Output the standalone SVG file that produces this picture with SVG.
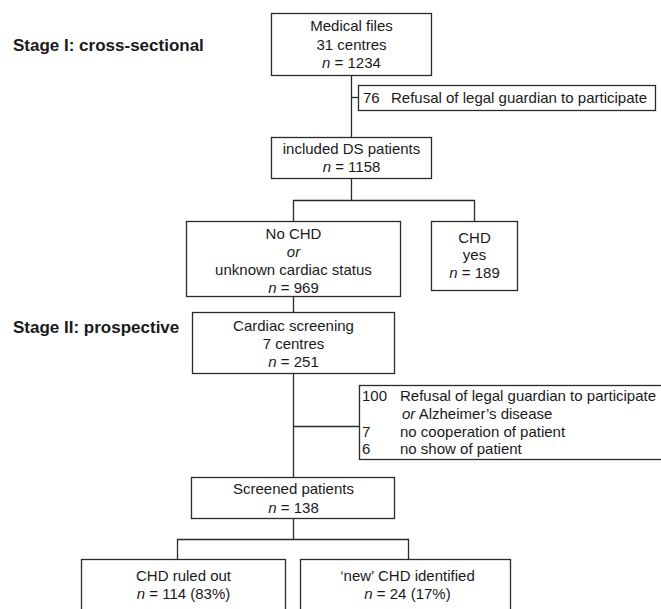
<svg xmlns="http://www.w3.org/2000/svg" width="661" height="609" viewBox="0 0 661 609">
<style>
.box{fill:#fff;stroke:#2a2a2a;stroke-width:1.3}
.ln{fill:none;stroke:#2a2a2a;stroke-width:1.3}
text{font-family:"Liberation Sans",Arial,sans-serif;font-size:15px;fill:#1a1a1a}
.c{text-anchor:middle}
.stage{font-size:17px;font-weight:bold}
.i{font-style:italic}
</style>
<rect width="661" height="609" fill="#fff"/>
<text class="stage" x="13" y="51">Stage I: cross-sectional</text>
<text class="stage" x="13" y="333">Stage II: prospective</text>
<g id="connectors">
<path class="ln" d="M351.5 75V137"/>
<path class="ln" d="M351.5 97.5H358.5"/>
<path class="ln" d="M351.5 179V200.5M293.5 221V200.5H474.5V221"/>
<path class="ln" d="M293.5 297V312"/>
<path class="ln" d="M293.5 374V477M293.5 426.5H359.5"/>
<path class="ln" d="M293.5 519V539.5M177.5 559V539.5H408.5V559"/>
</g>
<g id="medical">
<rect class="box" x="271.5" y="13.5" width="160" height="62"/>
<text class="c" x="351.5" y="31">Medical files</text>
<text class="c" x="351.5" y="49.5">31 centres</text>
<text class="c" x="351.5" y="67.5"><tspan class="i">n</tspan> = 1234</text>
</g>
<g id="refusal1">
<rect class="box" x="358.5" y="85.5" width="297" height="25"/>
<text x="363" y="103">76</text>
<text x="391" y="103">Refusal of legal guardian to participate</text>
</g>
<g id="included">
<rect class="box" x="271.5" y="137.5" width="160" height="41"/>
<text class="c" x="351.5" y="153.5">included DS patients</text>
<text class="c" x="351.5" y="172"><tspan class="i">n</tspan> = 1158</text>
</g>
<g id="nochd">
<rect class="box" x="186.5" y="221.5" width="214" height="75"/>
<text class="c" x="293.5" y="238.5">No CHD</text>
<text class="c i" x="293.5" y="257">or</text>
<text class="c" x="293.5" y="275">unknown cardiac status</text>
<text class="c" x="293.5" y="292.5"><tspan class="i">n</tspan> = 969</text>
</g>
<g id="chdyes">
<rect class="box" x="431.5" y="221.5" width="86" height="69"/>
<text class="c" x="474.5" y="242.5">CHD</text>
<text class="c" x="474.5" y="260">yes</text>
<text class="c" x="474.5" y="277.5"><tspan class="i">n</tspan> = 189</text>
</g>
<g id="screening">
<rect class="box" x="192.5" y="312.5" width="202" height="61"/>
<text class="c" x="293.5" y="330.5">Cardiac screening</text>
<text class="c" x="293.5" y="348.5">7 centres</text>
<text class="c" x="293.5" y="366.5"><tspan class="i">n</tspan> = 251</text>
</g>
<g id="refusal2">
<rect class="box" x="359.5" y="385.5" width="310" height="74"/>
<text x="362" y="400.5">100</text>
<text x="400" y="400.5">Refusal of legal guardian to participate</text>
<text x="402" y="418.5"><tspan class="i">or</tspan> Alzheimer’s disease</text>
<text x="362" y="436.5">7</text>
<text x="400" y="436.5">no cooperation of patient</text>
<text x="362" y="454">6</text>
<text x="400" y="454">no show of patient</text>
</g>
<g id="screened">
<rect class="box" x="191.5" y="477.5" width="203" height="41"/>
<text class="c" x="293.5" y="493.5">Screened patients</text>
<text class="c" x="293.5" y="513"><tspan class="i">n</tspan> = 138</text>
</g>
<g id="ruledout">
<rect class="box" x="81.5" y="559.5" width="204" height="70"/>
<text class="c" x="183.5" y="580.5">CHD ruled out</text>
<text class="c" x="183.5" y="599"><tspan class="i">n</tspan> = 114 (83%)</text>
</g>
<g id="newchd">
<rect class="box" x="300.5" y="559.5" width="210" height="70"/>
<text class="c" x="407.5" y="580.5">‘new’ CHD identified</text>
<text class="c" x="407.5" y="599"><tspan class="i">n</tspan> = 24 (17%)</text>
</g>
</svg>
